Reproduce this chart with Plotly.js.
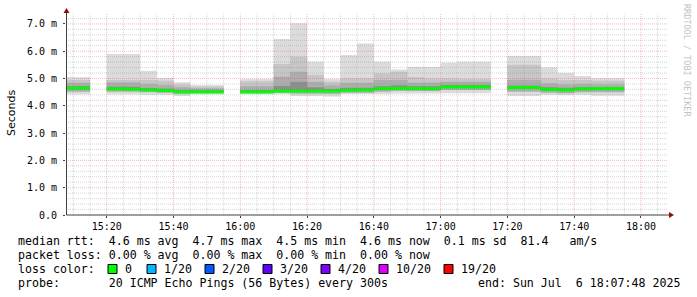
<!DOCTYPE html>
<html><head><meta charset="utf-8">
<script src="https://cdn.plot.ly/plotly-3.0.1.min.js"></script>
<style>html,body{margin:0;padding:0;background:#fff;}#chart{width:697px;height:297px;}</style>
</head><body><div id="chart"></div>
<script>
// 5-minute step start times (null rows = no data)
const stepStart = ['15:05','15:10','15:15','15:20','15:25','15:30','15:35','15:40','15:45','15:50','15:55',
  '16:00','16:05','16:10','16:15','16:20','16:25','16:30','16:35','16:40','16:45','16:50','16:55',
  '17:00','17:05','17:10','17:15','17:20','17:25','17:30','17:35','17:40','17:45','17:50'];
// smoke quantiles (ms)
const pingMax = [5.05,5.05,null,5.90,5.90,5.28,5.02,4.86,4.76,4.76,null,
  4.98,4.98,6.45,7.02,5.62,4.98,5.86,6.28,5.62,5.33,5.43,5.43,
  5.58,5.62,5.62,null,5.83,5.83,5.41,5.21,5.09,5.01,5.01];
const pingP90 = [4.95,4.95,null,4.95,4.95,4.95,4.92,4.78,4.70,4.70,null,
  4.90,4.90,5.53,5.80,5.13,4.88,5.01,5.01,5.19,5.25,5.05,5.00,
  5.00,4.98,4.98,null,5.50,5.50,5.00,4.95,4.95,4.92,4.92];
const pingP75 = [4.84,4.84,null,4.86,4.86,4.80,4.76,4.68,4.64,4.64,null,
  4.72,4.72,5.07,5.25,4.88,4.75,4.84,4.84,4.95,4.95,4.85,4.85,
  4.88,4.88,4.88,null,4.95,4.95,4.82,4.78,4.80,4.78,4.78];
const pingP60 = [4.72,4.72,null,4.70,4.70,4.65,4.63,4.58,4.57,4.57,null,
  4.58,4.58,4.73,4.88,4.68,4.62,4.66,4.66,4.72,4.75,4.72,4.72,
  4.76,4.76,4.76,null,4.74,4.74,4.68,4.66,4.68,4.68,4.68];
const median  = [4.64,4.64,null,4.62,4.61,4.58,4.56,4.51,4.51,4.51,null,
  4.51,4.51,4.54,4.54,4.54,4.54,4.57,4.58,4.63,4.64,4.64,4.63,
  4.69,4.69,4.69,null,4.67,4.67,4.60,4.58,4.62,4.63,4.63];
const pingP25 = [4.52,4.52,null,4.52,4.52,4.50,4.48,4.44,4.46,4.46,null,
  4.46,4.46,4.48,4.45,4.45,4.44,4.48,4.48,4.52,4.55,4.54,4.54,
  4.58,4.58,4.58,null,4.52,4.52,4.48,4.46,4.50,4.50,4.50];
const pingMin = [4.42,4.42,null,4.42,4.42,4.40,4.40,4.36,4.42,4.42,null,
  4.42,4.42,4.42,4.36,4.36,4.34,4.43,4.43,4.43,4.45,4.45,4.45,
  4.46,4.46,4.46,null,4.36,4.36,4.40,4.39,4.40,4.37,4.37];
// axis labels
const yTickVals = [0,1,2,3,4,5,6,7];
const yTickText = ['0.0','1.0 m','2.0 m','3.0 m','4.0 m','5.0 m','6.0 m','7.0 m'];
const xTickVals = ['15:20','15:40','16:00','16:20','16:40','17:00','17:20','17:40','18:00'];
const lossLabels = ['0','1/20','2/20','3/20','4/20','10/20','19/20'];
const lossColors = ['#00ff00','#00b8ff','#0059ff','#5e00ff','#7e00ff','#dd00ff','#ff0000'];
const statLines = [
  'median rtt:  4.6 ms avg  4.7 ms max  4.5 ms min  4.6 ms now  0.1 ms sd  81.4   am/s',
  'packet loss: 0.00 % avg  0.00 % max  0.00 % min  0.00 % now',
  'loss color:',
  'probe:       20 ICMP Echo Pings (56 Bytes) every 300s'
];
const endText = 'end: Sun Jul  6 18:07:48 2025';

const DAY = '2025-07-06 ';
function pad(n){return (n<10?'0':'')+n;}
function tstr(hhmm, addSec){
  const p = hhmm.split(':'); let s = (+p[0])*3600 + (+p[1])*60 + (addSec||0);
  return DAY + pad(Math.floor(s/3600)) + ':' + pad(Math.floor(s/60)%60) + ':' + pad(s%60);
}
const xc = stepStart.map(t => tstr(t,150));
const STEP = 300000;
function band(lo, hi, color){
  return {type:'bar', x:xc, base:lo.map(v=>v==null?null:v),
    y:hi.map((v,i)=>v==null?null:v-lo[i]), width:STEP, offset:-STEP/2,
    marker:{color:color, line:{width:0}}, hoverinfo:'skip', showlegend:false};
}
const medH = 0.11;
const traces = [
  band(pingMin, pingMax, '#dcdcdc'),
  band(pingP25, pingP90, '#c6c6c6'),
  band(pingP25, pingP75, '#adadad'),
  band(median, pingP60, '#8e8e8e'),
  {type:'bar', x:xc, base:median.map(v=>v==null?null:v-medH/2), y:median.map(v=>v==null?null:medH),
   width:STEP, offset:-STEP/2, marker:{color:lossColors[0], line:{width:0}}, hoverinfo:'skip', showlegend:false}
];

// geometry helpers (pixel -> paper)
const L=66, R=667, T=13, B=215, W=697, H=297;
const px = x => (x-L)/(R-L);
const py = y => (B-y)/(B-T);

const shapes = [];
const gridDash = '1px,1px';
const majorCol = 'rgba(225,70,70,0.36)';
const minorCol = 'rgba(120,120,120,0.30)';
// vertical grid every 5 min
for (let m = 15*60+10; m <= 18*60+5; m += 5) {
  const hh = pad(Math.floor(m/60))+':'+pad(m%60);
  const major = (m % 20 === 0);
  shapes.push({type:'line', layer:'above', xref:'x', yref:'paper', x0:tstr(hh), x1:tstr(hh), y0:0, y1:1,
    line:{color: major ? majorCol : minorCol, width:1, dash:gridDash}});
}
// horizontal grid every 0.2 ms
for (let k = 1; k <= 36; k++) {
  const v = k*0.2; const major = (k % 5 === 0);
  shapes.push({type:'line', layer:'above', xref:'paper', yref:'y', x0:0, x1:1, y0:v, y1:v,
    line:{color: major ? majorCol : minorCol, width:1, dash:gridDash}});
}
// axis lines with arrows
shapes.push({type:'line', layer:'above', xref:'paper', yref:'paper', x0:px(66.5), x1:px(670), y0:0, y1:0, line:{color:'#404040', width:1}});
shapes.push({type:'line', layer:'above', xref:'paper', yref:'paper', x0:px(66.5), x1:px(66.5), y0:0, y1:py(11), line:{color:'#404040', width:1}});
shapes.push({type:'path', layer:'above', xref:'paper', yref:'paper',
  path:`M ${px(669)} ${py(212)} L ${px(674)} ${py(215)} L ${px(669)} ${py(218)} Z`, fillcolor:'#8b1010', line:{width:0}});
shapes.push({type:'path', layer:'above', xref:'paper', yref:'paper',
  path:`M ${px(63.5)} ${py(13)} L ${px(66.5)} ${py(8)} L ${px(69.5)} ${py(13)} Z`, fillcolor:'#8b1010', line:{width:0}});

const NB = s => s.replace(/ /g,'\u00A0');
const mono = {family:'DejaVu Sans Mono', size:11.6, color:'#000'};
const annotations = [];
const lineY = [241, 255, 269, 283];
statLines.forEach((s,i)=>{
  annotations.push({xref:'paper', yref:'paper', x:px(16), y:py(lineY[i]), xanchor:'left', yanchor:'middle',
    text:NB(s), showarrow:false, font:mono});
});
annotations.push({xref:'paper', yref:'paper', x:px(682), y:py(283), xanchor:'right', yanchor:'middle',
  text:NB(endText), showarrow:false, font:mono});
// loss colour swatches
const boxX = [108, 147, 205, 263, 321, 379, 444];
lossLabels.forEach((lab,i)=>{
  shapes.push({type:'rect', xref:'paper', yref:'paper', x0:px(boxX[i]), x1:px(boxX[i]+9), y0:py(273.5), y1:py(264.5),
    fillcolor:lossColors[i], line:{color:'#000', width:1}});
  annotations.push({xref:'paper', yref:'paper', x:px(boxX[i]+15), y:py(269), xanchor:'left', yanchor:'middle',
    text:NB(lab), showarrow:false, font:mono});
});
annotations.push({xref:'paper', yref:'paper', x:px(11), y:py(113), xanchor:'center', yanchor:'middle',
  text:'Seconds', textangle:-90, showarrow:false, font:{family:'DejaVu Sans', size:11, color:'#000'}});
annotations.push({xref:'paper', yref:'paper', x:px(687), y:py(60), xanchor:'center', yanchor:'middle',
  text:'RRDTOOL / TOBI OETIKER', textangle:90, showarrow:false, font:{family:'DejaVu Sans Mono', size:8.5, color:'#c4c4c4'}});

const layout = {
  width:W, height:H, margin:{l:L, r:W-R, t:T, b:H-B, pad:0},
  paper_bgcolor:'#fff', plot_bgcolor:'#fff', barmode:'overlay', showlegend:false,
  xaxis:{type:'date', range:[DAY+'15:07:48', DAY+'18:07:48'], showgrid:false, zeroline:false, showline:false,
    tickvals:xTickVals.map(t=>tstr(t)), ticktext:xTickVals, ticks:'outside', ticklen:2, tickcolor:'#404040',
    tickfont:{family:'DejaVu Sans Mono', size:10, color:'#000'}, fixedrange:true},
  yaxis:{range:[0,7.4], showgrid:false, zeroline:false, showline:false, tickvals:yTickVals, ticktext:yTickText,
    ticks:'outside', ticklen:2, tickcolor:'#404040', ticklabelstandoff:4,
    tickfont:{family:'DejaVu Sans Mono', size:10, color:'#000'}, fixedrange:true},
  shapes:shapes, annotations:annotations
};
Plotly.newPlot('chart', traces, layout, {staticPlot:true, displayModeBar:false});
</script></body></html>
